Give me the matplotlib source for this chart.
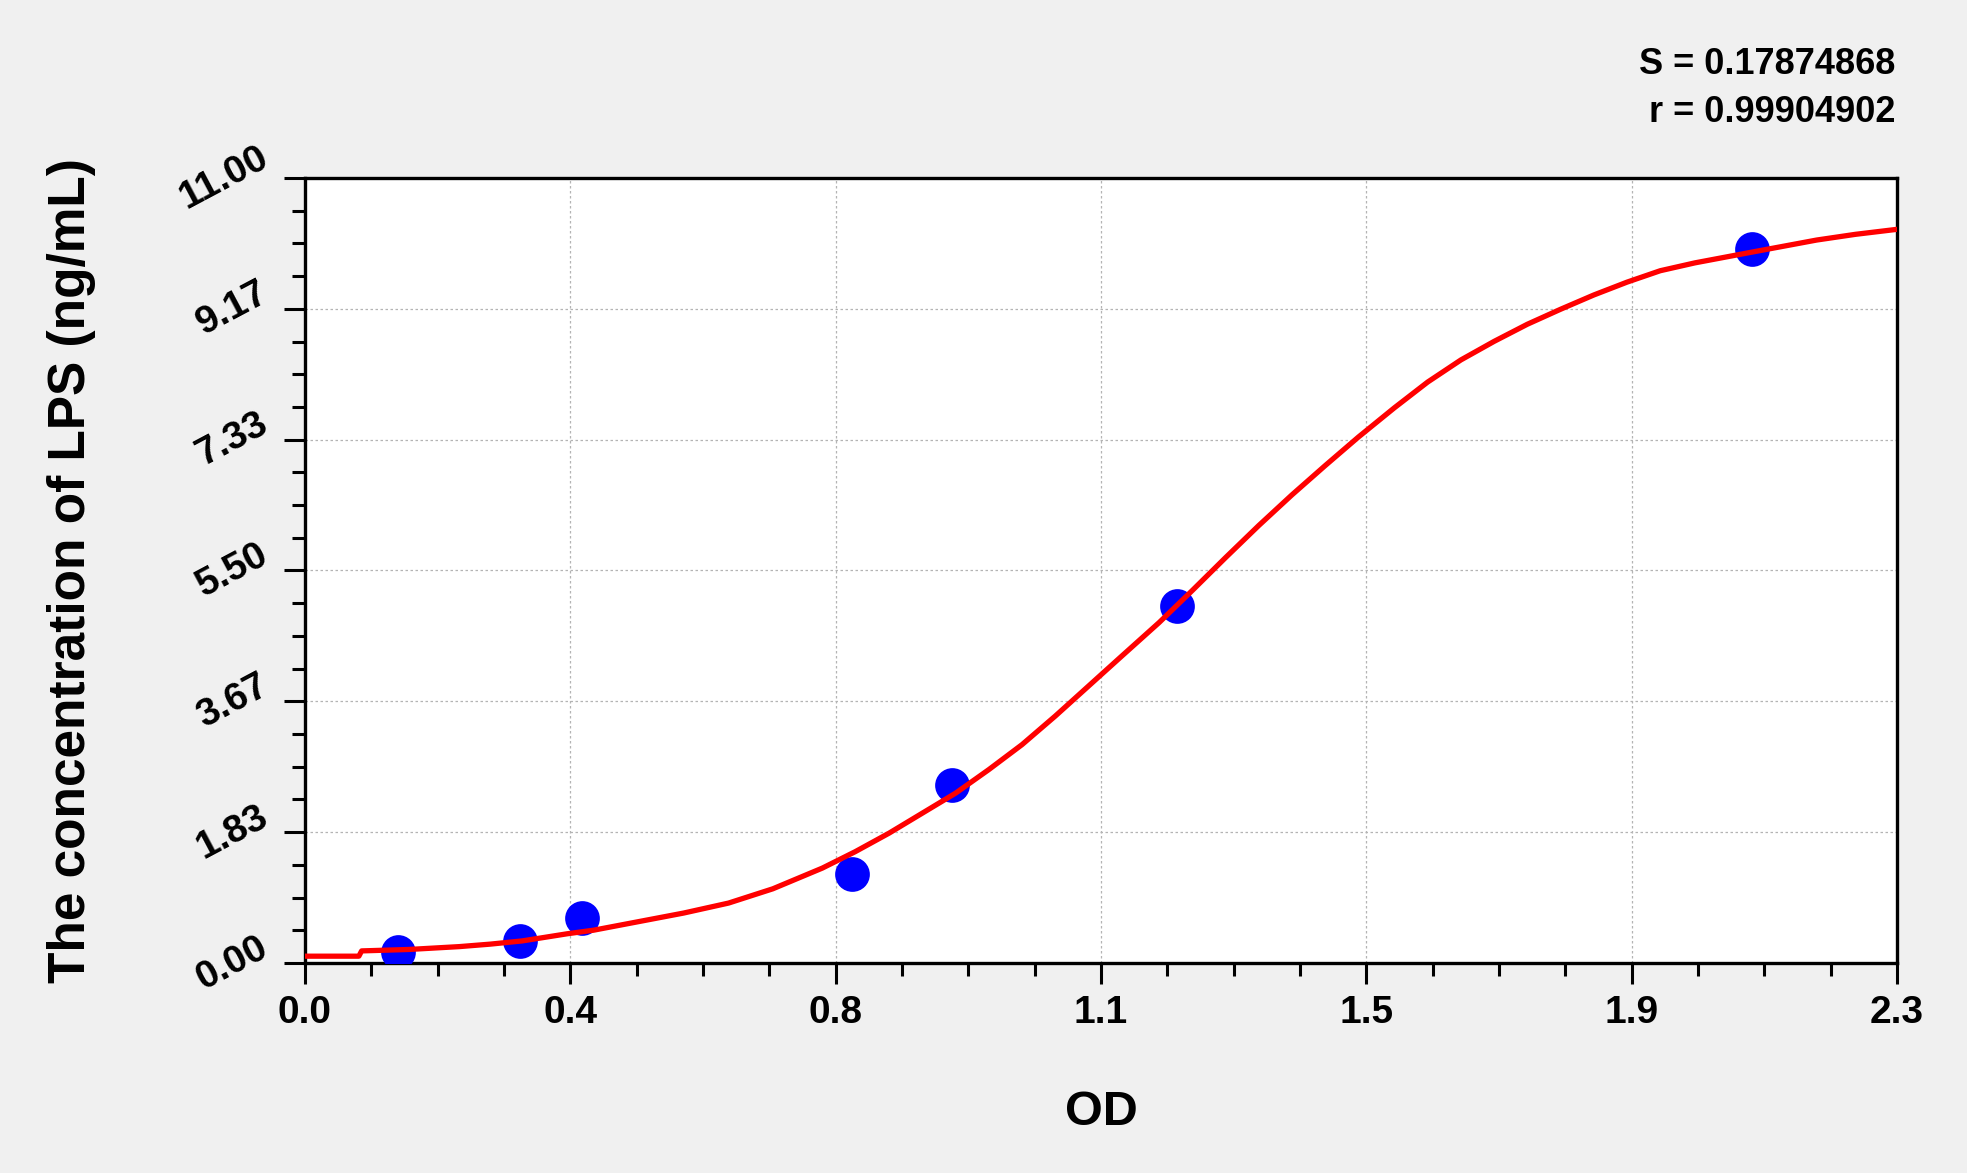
import matplotlib
matplotlib.use("Agg")
import matplotlib.pyplot as plt
import matplotlib.transforms as mtransforms
import numpy as np

# ---- data ----
od_points = [0.134, 0.311, 0.401, 0.791, 0.935, 1.260, 2.091]
conc_points = [0.156, 0.3125, 0.625, 1.25, 2.5, 5.0, 10.0]

curve_od = [0.0, 0.078, 0.082, 0.15, 0.223, 0.268, 0.314, 0.379, 0.417, 0.482,
            0.547, 0.612, 0.676, 0.7475, 0.795, 0.844, 0.892, 0.940, 0.988, 1.036,
            1.084, 1.132, 1.180, 1.234, 1.282, 1.330, 1.378, 1.426, 1.474, 1.522,
            1.574, 1.622, 1.670, 1.718, 1.766, 1.814, 1.862, 1.910, 1.958, 2.008,
            2.09, 2.184, 2.24, 2.30]
curve_conc = [0.096, 0.096, 0.17, 0.19, 0.23, 0.265, 0.31, 0.41, 0.46, 0.58,
              0.70, 0.84, 1.04, 1.33, 1.56, 1.82, 2.10, 2.38, 2.71, 3.06,
              3.46, 3.88, 4.30, 4.77, 5.22, 5.68, 6.13, 6.56, 6.97, 7.37,
              7.78, 8.14, 8.45, 8.71, 8.95, 9.16, 9.36, 9.54, 9.70, 9.81,
              9.96, 10.13, 10.21, 10.28]

x_tick_labels = ['0.0', '0.4', '0.8', '1.1', '1.5', '1.9', '2.3']
y_tick_labels = ['0.00', '1.83', '3.67', '5.50', '7.33', '9.17', '11.00']
x_max = 2.3
y_max = 11.0
stats_lines = ['S = 0.17874868', 'r = 0.99904902']
x_label = 'OD'
y_label = 'The concentration of LPS (ng/mL)'

# ---- figure ----
bg = '#f0f0f0'
fig = plt.figure(figsize=(19.67, 11.73), dpi=100, facecolor=bg)
ax = fig.add_axes([0.155, 0.179, 0.8094, 0.6693])
ax.set_facecolor('white')

ax.plot(od_points, conc_points, 'o', color='#0000ff', markersize=25,
        markeredgewidth=0, zorder=3)
ax.plot(curve_od, curve_conc, '-', color='#ff0000', linewidth=3.8, zorder=4,
        solid_capstyle='round', solid_joinstyle='round')

ax.set_xlim(0, x_max)
ax.set_ylim(0, y_max)

n = len(x_tick_labels) - 1
ax.set_xticks(np.linspace(0, x_max, n + 1))
ax.set_xticks(np.linspace(0, x_max, 4 * n + 1), minor=True)
ax.set_yticks(np.linspace(0, y_max, n + 1))
ax.set_yticks(np.linspace(0, y_max, 4 * n + 1), minor=True)

font = ['Liberation Sans', 'DejaVu Sans']
ax.set_xticklabels(x_tick_labels, fontsize=28, fontweight='bold', family=font)
ax.set_yticklabels(y_tick_labels, fontsize=28, fontweight='bold', family=font,
                   rotation=28, ha='right', va='center')
shift = mtransforms.ScaledTranslation(0, -5 / 72, fig.dpi_scale_trans)
for lab in ax.get_yticklabels():
    lab.set_transform(lab.get_transform() + shift)

ax.tick_params(axis='both', which='major', direction='out', length=15, width=2.2,
               color='black')
ax.tick_params(axis='both', which='minor', direction='out', length=9.5, width=2.2,
               color='black')
ax.tick_params(axis='x', which='major', pad=8)
ax.tick_params(axis='y', which='major', pad=7)

ax.grid(True, which='major', color='#b4b4b4', linestyle=(0, (2, 2)), linewidth=0.9)
ax.set_axisbelow(True)

for sp in ax.spines.values():
    sp.set_linewidth(2.4)
    sp.set_color('black')

ax.set_xlabel(x_label, fontsize=35, fontweight='bold', family=font, va='center')
ax.xaxis.set_label_coords(0.5, -0.191)
ax.set_ylabel(y_label, fontsize=37, fontweight='bold', family=font, va='center')
ax.yaxis.set_label_coords(-0.1467, 0.5)

fig.text(0.9634, 0.9454, stats_lines[0], ha='right', va='center', fontsize=26,
         fontweight='bold', family=font)
fig.text(0.9634, 0.9037, stats_lines[1], ha='right', va='center', fontsize=26,
         fontweight='bold', family=font)

fig.savefig('out.png', dpi=100, facecolor=bg)
